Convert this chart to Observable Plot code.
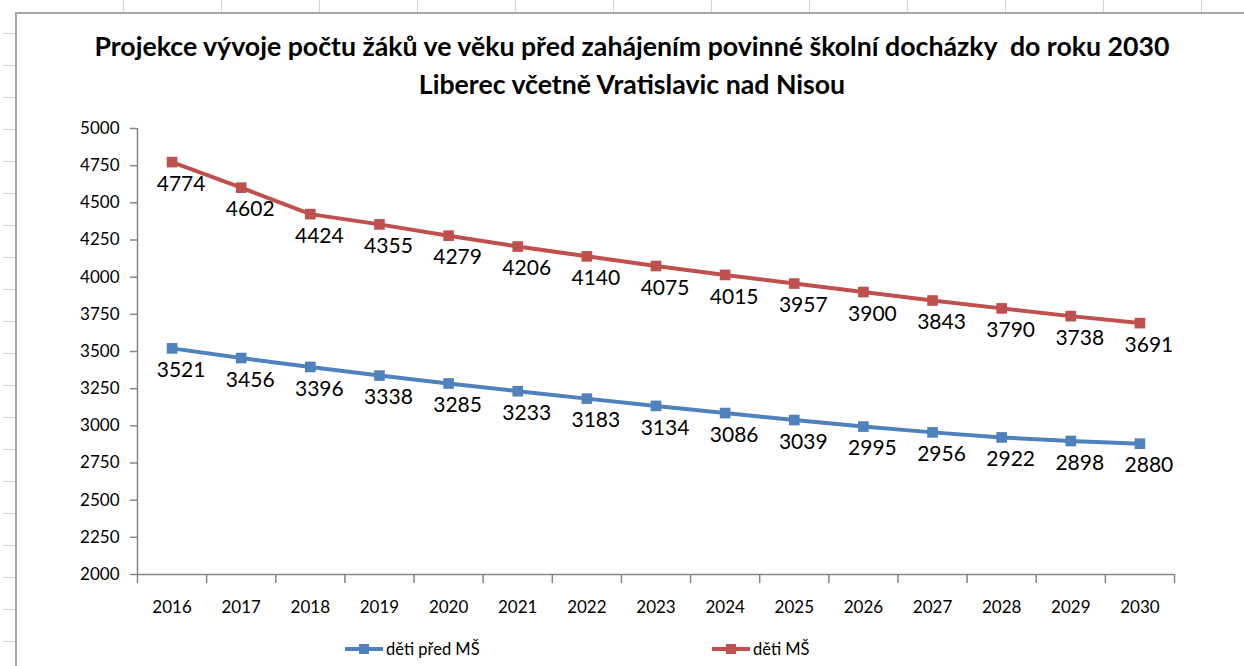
<!DOCTYPE html>
<html>
<head>
<meta charset="utf-8">
<script src="https://cdn.jsdelivr.net/npm/d3@7"></script>
<script src="https://cdn.jsdelivr.net/npm/@observablehq/plot@0.6"></script>
<style>
  html, body { margin: 0; padding: 0; background: #fff; }
  #page { position: relative; width: 1244px; height: 666px; overflow: hidden; font-family: Lato, "Open Sans", sans-serif; }
  .frameTop { position: absolute; left: 16px; top: 12px; width: 1228px; height: 2px; background: #a6a6a6; }
  .frameLeft { position: absolute; left: 15px; top: 12px; width: 2px; height: 654px; background: #a6a6a6; }
  .gtick { position: absolute; background: #d4d4d4; }
  #title { position: absolute; left: 0; top: 27px; width: 1264px; text-align: center; font-weight: bold; font-size: 26.7px; line-height: 38px; color: #000; }
  #chart { position: absolute; left: 0; top: 100px; }
  #legend { position: absolute; left: 0; top: 637px; width: 1244px; height: 24px; font-size: 16.5px; color: #000; }
  .litem { position: absolute; top: 0; display: flex; align-items: center; height: 24px; }
  .litem svg { margin-right: 3px; }
</style>
</head>
<body>
<div id="page">
  <div class="frameTop"></div>
  <div class="frameLeft"></div>
  <div id="title">Projekce vývoje počtu žáků ve věku před zahájením povinné školní docházky&nbsp; do roku 2030<br>Liberec včetně Vratislavic nad Nisou</div>
  <div id="chart"></div>
  <div id="legend"></div>
</div>
<script>
// ---- data ----
const years = [2016, 2017, 2018, 2019, 2020, 2021, 2022, 2023, 2024, 2025, 2026, 2027, 2028, 2029, 2030];
const detiPredMS = [3521, 3456, 3396, 3338, 3285, 3233, 3183, 3134, 3086, 3039, 2995, 2956, 2922, 2898, 2880];
const detiMS = [4774, 4602, 4424, 4355, 4279, 4206, 4140, 4075, 4015, 3957, 3900, 3843, 3790, 3738, 3691];
const yTicks = [2000, 2250, 2500, 2750, 3000, 3250, 3500, 3750, 4000, 4250, 4500, 4750, 5000];
const seriesNames = ["děti před MŠ", "děti MŠ"];
const seriesColors = ["#4F81BD", "#C0504D"];

// decorative spreadsheet grid ticks
const page = document.getElementById("page");
for (let y = 33; y < 666; y += 32) {
  const d = document.createElement("div");
  d.className = "gtick";
  Object.assign(d.style, {left: "3px", top: y + "px", width: "12px", height: "1px"});
  page.appendChild(d);
}
for (let x = 123; x < 1244; x += 98) {
  const d = document.createElement("div");
  d.className = "gtick";
  Object.assign(d.style, {left: x + "px", top: "0px", width: "1px", height: "12px"});
  page.appendChild(d);
}

const rows = [];
years.forEach((yr, i) => {
  rows.push({year: yr, value: detiPredMS[i], series: seriesNames[0]});
  rows.push({year: yr, value: detiMS[i], series: seriesNames[1]});
});
const boundaries = [years[0] - 0.5, ...years.map(y => y + 0.5)];

const axisColor = "#868686";
const chart = Plot.plot({
  width: 1244,
  height: 520,
  marginTop: 28,
  marginBottom: 46,
  marginLeft: 137,
  marginRight: 70,
  style: {fontFamily: "Lato, 'Open Sans', sans-serif", background: "transparent"},
  x: {type: "linear", domain: [years[0] - 0.5, years[years.length - 1] + 0.5], axis: null},
  y: {type: "linear", domain: [2000, 5000], axis: null},
  color: {domain: seriesNames, range: seriesColors},
  marks: [
    Plot.ruleY([2000], {stroke: axisColor, strokeWidth: 1.5}),
    Plot.ruleX([years[0] - 0.5], {y1: 2000, y2: 5000, stroke: axisColor, strokeWidth: 1.5}),
    Plot.axisX({ticks: boundaries, tickSize: 9, tickFormat: () => "", stroke: axisColor, strokeWidth: 1.5, label: null}),
    Plot.axisX({ticks: years, tickSize: 0, tickPadding: 26, tickFormat: d => String(d), fontSize: 17, fill: "#000", label: null}),
    Plot.axisY({ticks: yTicks, tickSize: 7, tickPadding: 11, stroke: axisColor, strokeWidth: 1.5, tickFormat: d => String(d), fontSize: 17, fill: "#000", label: null}),
    Plot.line(rows, {x: "year", y: "value", stroke: "series", strokeWidth: 4, z: "series"}),
    Plot.dot(rows, {x: "year", y: "value", fill: "series", symbol: "square", r: 6}),
    Plot.text(rows, {x: "year", y: "value", text: d => String(d.value), dy: 22, dx: 9, fontSize: 21, fill: "#000"})
  ]
});
document.getElementById("chart").appendChild(chart);

// legend
const legend = document.getElementById("legend");
const legendX = [345, 712];
seriesNames.forEach((name, i) => {
  const item = document.createElement("div");
  item.className = "litem";
  item.style.left = legendX[i] + "px";
  item.innerHTML = `<svg width="38" height="12"><line x1="0" x2="38" y1="6" y2="6" stroke="${seriesColors[i]}" stroke-width="4"/><rect x="14" y="1" width="10" height="10" fill="${seriesColors[i]}"/></svg><span>${name}</span>`;
  legend.appendChild(item);
});
</script>
</body>
</html>
